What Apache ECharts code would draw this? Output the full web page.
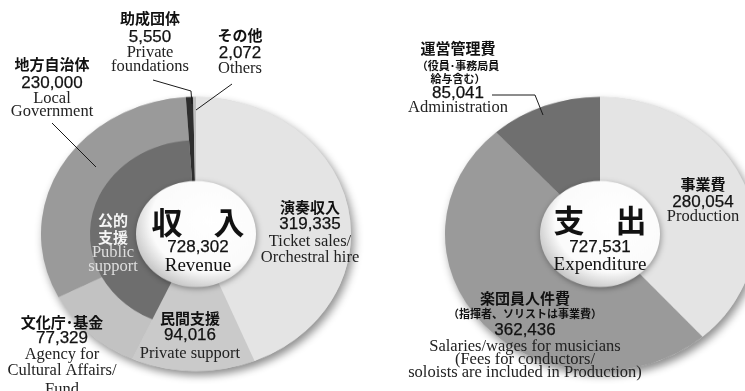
<!DOCTYPE html>
<html>
<head>
<meta charset="utf-8">
<script src="https://cdn.jsdelivr.net/npm/echarts@6/dist/echarts.min.js"></script>
<style>
  html, body { margin: 0; padding: 0; background: #fff; }
  #wrap { position: relative; width: 745px; height: 391px; overflow: hidden; background: #fff; }
  /* the rings are drawn round and flattened vertically into ellipses */
  #pies { position: absolute; left: 0; top: 0; width: 745px; height: 442px;
          transform: scaleY(0.8846); transform-origin: 0 0; }
  #labels { position: absolute; left: 0; top: 0; width: 745px; height: 391px; }
</style>
</head>
<body>
<div id="wrap">
  <div id="pies"></div>
  <div id="labels"></div>
</div>
<script>
// ---- data (unit: thousand yen) ----
const revenueCategories = ['演奏収入', '民間支援', '文化庁･基金', '地方自治体', '助成団体', 'その他'];
const revenueValues     = [319335, 94016, 77329, 230000, 5550, 2072];
const revenueEnglish    = [
  ['Ticket sales/', 'Orchestral hire'],
  ['Private support'],
  ['Agency for', 'Cultural Affairs/', 'Fund'],
  ['Local', 'Government'],
  ['Private', 'foundations'],
  ['Others']
];
// public support = agency/fund + local government
const publicSupportParts = ['文化庁･基金', '地方自治体'];
const publicSupportTitle = ['公的', '支援'];
const publicSupportEnglish = ['Public', 'support'];

const expenseCategories = ['事業費', '楽団員人件費', '運営管理費'];
const expenseValues     = [280054, 362436, 85041];
const expenseNotes      = [[], ['（指揮者、ソリストは事業費）'], ['（役員･事務局員', '給与含む）']];
const expenseEnglish    = [
  ['Production'],
  ['Salaries/wages for musicians', '(Fees for conductors/', 'soloists are included in Production)'],
  ['Administration']
];

const centerTitles  = ['収　入', '支　出'];
const centerEnglish = ['Revenue', 'Expenditure'];

// ---- styling ----
const revenueColors = ['#e4e4e4', '#cacaca', '#c2c2c2', '#9a9a9a', '#2e2e2e', '#bfbfbf'];
const expenseColors = ['#e4e4e4', '#9a9a9a', '#6f6f6f'];
const publicColor = '#6e6e6e';

const FLAT = 0.8846;
const CY = 234 / FLAT;
const LEFT_X = 196, RIGHT_X = 600;
const R_OUT = 155, R_HOLE = 58, R_PUBLIC = 106;

const sum = a => a.reduce((s, v) => s + v, 0);
const fmt = v => v.toLocaleString('en-US');
const revenueTotal = sum(revenueValues);
const expenseTotal = sum(expenseValues);

const pubIdx = publicSupportParts.map(n => revenueCategories.indexOf(n));
const publicValue = sum(pubIdx.map(i => revenueValues[i]));
const beforePublic = sum(revenueValues.slice(0, Math.min(...pubIdx)));
const afterPublic = revenueTotal - beforePublic - publicValue;

const baseShadow = {
  shadowBlur: 10, shadowOffsetX: 3, shadowOffsetY: 5, shadowColor: 'rgba(0,0,0,0.45)'
};
const pieCommon = {
  type: 'pie', silent: true, startAngle: 90, clockwise: true,
  label: { show: false }, labelLine: { show: false }, emphasis: { disabled: true }
};
const clear = 'rgba(0,0,0,0)';

const holeFill = {
  type: 'radial', x: 0.6, y: 0.38, r: 0.66,
  colorStops: [
    { offset: 0, color: '#ffffff' },
    { offset: 0.72, color: '#fbfbfb' },
    { offset: 1, color: '#c4c4c4' }
  ]
};

const pies = echarts.init(document.getElementById('pies'), null, { renderer: 'canvas' });
pies.setOption({
  animation: false,
  backgroundColor: 'transparent',
  series: [
    Object.assign({}, pieCommon, {
      center: [LEFT_X, CY], radius: [R_HOLE, R_OUT],
      data: [{ value: revenueTotal, itemStyle: Object.assign({ color: '#d8d8d8' }, baseShadow) }]
    }),
    Object.assign({}, pieCommon, {
      center: [LEFT_X, CY], radius: [R_HOLE, R_OUT],
      data: revenueValues.map((v, i) => ({ name: revenueCategories[i], value: v, itemStyle: { color: revenueColors[i] } }))
    }),
    Object.assign({}, pieCommon, {
      center: [LEFT_X, CY], radius: [R_HOLE, R_PUBLIC],
      data: [
        { value: beforePublic, itemStyle: { color: clear } },
        { name: '公的支援', value: publicValue, itemStyle: { color: publicColor } },
        { value: afterPublic, itemStyle: { color: clear } }
      ]
    }),
    Object.assign({}, pieCommon, {
      center: [RIGHT_X, CY], radius: [R_HOLE, R_OUT],
      data: [{ value: expenseTotal, itemStyle: Object.assign({ color: '#d8d8d8' }, baseShadow) }]
    }),
    Object.assign({}, pieCommon, {
      center: [RIGHT_X, CY], radius: [R_HOLE, R_OUT],
      data: expenseValues.map((v, i) => ({ name: expenseCategories[i], value: v, itemStyle: { color: expenseColors[i] } }))
    })
  ],
  graphic: [LEFT_X, RIGHT_X].map(cx => ({
    type: 'circle', silent: true, z: 100,
    shape: { cx: cx, cy: CY, r: R_HOLE + 2 },
    style: { fill: holeFill, shadowBlur: 6, shadowOffsetX: 1, shadowOffsetY: 2, shadowColor: 'rgba(0,0,0,0.35)' }
  }))
});

// ---- text and leader lines ----
const JP = '"Noto Sans CJK JP", "Noto Sans CJK SC", sans-serif';
const NUM = '"Liberation Sans", Arial, sans-serif';
const EN = '"Liberation Serif", "DejaVu Serif", serif';
const styles = {
  jp:    { fontFamily: JP, fontWeight: 'bold', fontSize: 15, fill: '#111' },
  jpS:   { fontFamily: JP, fontWeight: 'bold', fontSize: 11, fill: '#111' },
  jpBig: { fontFamily: JP, fontWeight: 'bold', fontSize: 31, fill: '#111' },
  jpW:   { fontFamily: JP, fontWeight: 'bold', fontSize: 15, fill: '#f4f4f4' },
  num:   { fontFamily: NUM, fontWeight: 'normal', fontSize: 17, fill: '#111', stroke: '#111', lineWidth: 0.25 },
  en:    { fontFamily: EN, fontWeight: 'normal', fontSize: 16.5, fill: '#222' },
  enW:   { fontFamily: EN, fontWeight: 'normal', fontSize: 16.5, fill: '#dedede' },
  enBig: { fontFamily: EN, fontWeight: 'normal', fontSize: 19, fill: '#111' }
};
const txt = (t, s, x, y) => ({
  type: 'text', silent: true,
  style: Object.assign({ text: t, x: x, y: y, align: 'center', verticalAlign: 'middle' }, styles[s])
});
// lines: [[text, styleKey], ...] with matching y positions
const block = (x, lines, ys) => lines.map((l, i) => txt(l[0], l[1], x, ys[i]));

const revLabel = i => [[revenueCategories[i], 'jp'], [fmt(revenueValues[i]), 'num']]
  .concat(revenueEnglish[i].map(e => [e, 'en']));
const expLabel = i => [[expenseCategories[i], 'jp']]
  .concat(expenseNotes[i].map(n => [n, 'jpS']))
  .concat([[fmt(expenseValues[i]), 'num']])
  .concat(expenseEnglish[i].map(e => [e, 'en']));

const line = pts => ({
  type: 'polyline', silent: true,
  shape: { points: pts },
  style: { stroke: '#1a1a1a', lineWidth: 1, fill: null }
});

const labelGraphics = [].concat(
  block(310, revLabel(0), [207, 224, 242, 258]),
  block(190, revLabel(1), [318, 335, 354]),
  block(62,  revLabel(2), [322, 338, 355, 371, 390]),
  block(52,  revLabel(3), [64, 83, 99, 112]),
  block(150, revLabel(4), [18, 37, 53, 67]),
  block(240, revLabel(5), [35, 53, 69]),
  block(113, [[publicSupportTitle[0], 'jpW'], [publicSupportTitle[1], 'jpW'],
              [publicSupportEnglish[0], 'enW'], [publicSupportEnglish[1], 'enW']], [220, 237, 253, 267]),
  block(198, [[centerTitles[0], 'jpBig'], [fmt(revenueTotal), 'num'], [centerEnglish[0], 'enBig']], [222, 247, 266]),
  block(600, [[centerTitles[1], 'jpBig'], [fmt(expenseTotal), 'num'], [centerEnglish[1], 'enBig']], [220, 247, 265]),
  block(703, expLabel(0), [184, 202, 217]),
  block(525, expLabel(1), [298, 314, 330, 347, 360, 373]),
  block(458, expLabel(2), [48, 66, 79, 93, 108]),
  [
    line([[153, 80], [191, 91], [192, 104]]),
    line([[232, 84], [196, 110]]),
    line([[52, 123], [96, 167]]),
    line([[492, 95], [535, 95], [543, 115]])
  ]
);

const labels = echarts.init(document.getElementById('labels'), null, { renderer: 'canvas' });
labels.setOption({
  animation: false,
  backgroundColor: 'transparent',
  graphic: labelGraphics
});
</script>
</body>
</html>
